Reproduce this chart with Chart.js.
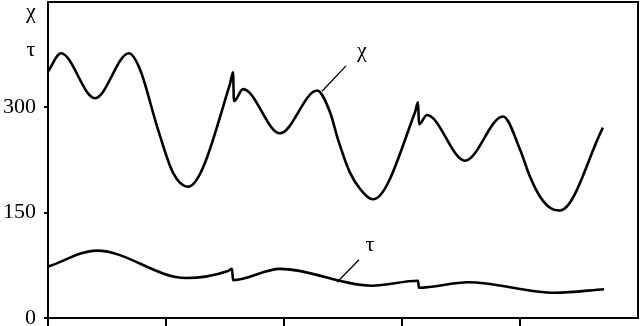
<!DOCTYPE html>
<html><head><meta charset="utf-8">
<script src="https://cdn.jsdelivr.net/npm/chart.js@4/dist/chart.umd.min.js"></script>
<style>html,body{margin:0;padding:0;background:#fff}</style>
</head><body>
<canvas id="c" width="640" height="326"></canvas>
<script>
// x positions (axis units, tick every 1) and values
const chiX = [0,0.110,0.398,0.686,0.780,0.924,1.059,1.186,1.542,1.568,1.576,1.653,1.966,2.280,2.390,2.458,2.559,2.644,2.754,3.110,3.136,3.144,3.212,3.534,3.856,4.000,4.085,4.169,4.254,4.339,4.703];
const chiY = [351,377,313,377,354,273,207,187,333,350,309,326,263,324,293,254,207,184,169,293,307,276,289,224,287,240,201,173,157,153,271];
const tauX = [0,0.415,1.169,1.525,1.559,1.568,1.966,2.746,3.136,3.144,3.559,4.297,4.712];
const tauY = [73,96,57,67,70,54,70,46,53,43,51,36,41];
const yTicks = [0,150,300];
const xTicks = [0,1,2,3,4];
const axisTitles = ['χ','τ'];
const seriesNames = ['χ','τ'];
// label anchor & leader lines in data units: [x1,y1,x2,y2]
const leaders = [[2.322,323,2.525,359],[2.449,51,2.636,83]];
const labelPos = [[2.661,380],[2.729,104]];

const decor = {
  id:'decor',
  afterDraw(chart){
    const {ctx, chartArea:a, scales:{x,y}} = chart;
    ctx.save();
    ctx.strokeStyle='#000'; ctx.lineWidth=2;
    ctx.beginPath(); ctx.moveTo(a.left,a.top); ctx.lineTo(a.right,a.top); ctx.lineTo(a.right,a.bottom); ctx.stroke();
    ctx.lineWidth=1.3;
    leaders.forEach(l=>{
      ctx.beginPath();
      ctx.moveTo(x.getPixelForValue(l[0]),y.getPixelForValue(l[1]));
      ctx.lineTo(x.getPixelForValue(l[2]),y.getPixelForValue(l[3]));
      ctx.stroke();
    });
    ctx.fillStyle='#000'; ctx.textAlign='center'; ctx.textBaseline='middle';
    ctx.font='22px "Liberation Serif"';
    labelPos.forEach((p,i)=>ctx.fillText(seriesNames[i], x.getPixelForValue(p[0]), y.getPixelForValue(p[1])));
    ctx.fillText(axisTitles[0], 31, 12);
    ctx.fillText(axisTitles[1], 31, 50);
    ctx.restore();
  }
};

const noPad = s=>{s.paddingTop=0;s.paddingBottom=0;s.paddingLeft=0;s.paddingRight=0;};
const mk = (xs,ys)=>xs.map((v,i)=>({x:v,y:ys[i]}));
new Chart(document.getElementById('c'),{
  type:'line',
  data:{datasets:[
    {label:seriesNames[0],data:mk(chiX,chiY),borderColor:'#000',borderWidth:2.6,pointRadius:0,cubicInterpolationMode:'monotone',fill:false},
    {label:seriesNames[1],data:mk(tauX,tauY),borderColor:'#000',borderWidth:2.6,pointRadius:0,cubicInterpolationMode:'monotone',fill:false}
  ]},
  options:{
    responsive:false, animation:false, devicePixelRatio:1,
    layout:{padding:{top:2,right:2,left:0,bottom:0}},
    plugins:{legend:{display:false},tooltip:{enabled:false}},
    scales:{
      x:{type:'linear',min:0,max:5,
        afterBuildTicks:s=>{s.ticks=xTicks.map(v=>({value:v}));},
        afterFit:s=>{s.height=8;noPad(s);},
        ticks:{display:false},
        grid:{drawOnChartArea:false,drawTicks:true,tickLength:8,color:'#000',lineWidth:2},
        border:{display:true,color:'#000',width:2}},
      y:{min:0,max:450,
        afterBuildTicks:s=>{s.ticks=yTicks.map(v=>({value:v}));},
        afterFit:s=>{s.width=48;noPad(s);},
        ticks:{color:'#000',padding:8,font:{family:'"Liberation Serif"',size:22}},
        grid:{drawOnChartArea:false,drawTicks:true,tickLength:4,color:'#000',lineWidth:2},
        border:{display:true,color:'#000',width:2}}
    }
  },
  plugins:[decor]
});
</script>
</body></html>
